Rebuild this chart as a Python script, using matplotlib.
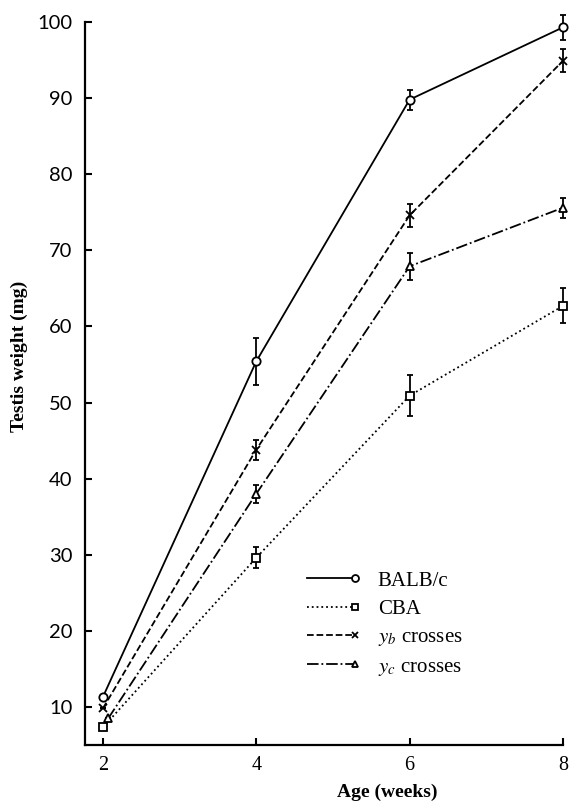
import matplotlib
matplotlib.use("Agg")
import matplotlib.pyplot as plt
from matplotlib.legend_handler import HandlerLine2D

plt.rcParams['font.family'] = 'Liberation Serif'
plt.rcParams['mathtext.fontset'] = 'stix'

# data (age in weeks, testis weight in mg)
ages = [2, 4, 6, 8]

balb_mean = [11.3, 55.4, 89.8, 99.3]
balb_err = [0, 3.1, 1.3, 1.6]

cba_mean = [7.3, 29.6, 50.9, 62.7]
cba_err = [0, 1.4, 2.7, 2.3]

yb_mean = [9.8, 43.8, 74.6, 94.9]
yb_err = [0, 1.3, 1.5, 1.5]

yc_ages = [2.07, 4, 6, 8]
yc_mean = [8.5, 38.0, 67.9, 75.6]
yc_err = [0, 1.2, 1.8, 1.3]

y_ticks = [10, 20, 30, 40, 50, 60, 70, 80, 90, 100]
x_ticks = [2, 4, 6, 8]


class EndMarker(HandlerLine2D):
    # legend handle with the marker at the right end of the line
    def create_artists(self, *args, **kwargs):
        arts = super().create_artists(*args, **kwargs)
        for a in arts:
            a.set_markevery([2])
            a.set_markersize(5)
        return arts


fig = plt.figure(figsize=(5.69, 8.10), dpi=100)
ax = fig.add_axes([85 / 569, 1 - 745 / 810, 478 / 569, 723 / 810])

series = [
    (ages, balb_mean, balb_err, '-', 'o', 'BALB/c'),
    (ages, cba_mean, cba_err, ':', 's', 'CBA'),
    (ages, yb_mean, yb_err, '--', 'x', '$y_b$ crosses'),
    (yc_ages, yc_mean, yc_err, '-.', '^', '$y_c$ crosses'),
]

handles = []
for x, y, e, ls, mk, lab in series:
    ax.errorbar(x, y, yerr=e, fmt='none', ecolor='black', elinewidth=1.3,
                capsize=2.5, capthick=1.3, clip_on=False, zorder=3)
    ln, = ax.plot(x, y, linestyle=ls, color='black', linewidth=1.3,
                  marker=mk, markersize=6, markerfacecolor='white',
                  markeredgecolor='black', markeredgewidth=1.3,
                  clip_on=False, label=lab, zorder=4)
    handles.append(ln)

ax.set_xlim(1.767, 8)
ax.set_ylim(5, 100)
ax.set_xticks(x_ticks)
ax.set_yticks(y_ticks)
ax.spines['top'].set_visible(False)
ax.spines['right'].set_visible(False)
ax.spines['left'].set_linewidth(1.6)
ax.spines['bottom'].set_linewidth(1.6)
ax.tick_params(direction='in', length=5, width=1.5)
ax.tick_params(axis='y', pad=9, labelsize=14.5)
ax.tick_params(axis='x', pad=8, labelsize=14.5)
for t in ax.get_yticklabels():
    t.set_family('Lato')

ax.set_ylabel('Testis weight (mg)', fontsize=14, fontweight='bold')
ax.set_xlabel('Age (weeks)', fontsize=14, fontweight='bold')
ax.yaxis.set_label_coords(-0.12, 0.538)
ax.xaxis.set_label_coords(0.632, -0.053)

ax.legend(handles=handles, loc='upper left',
          bbox_to_anchor=(307 / 569, 1 - 571 / 810),
          bbox_transform=fig.transFigure, frameon=False, fontsize=15,
          handlelength=2.3, handletextpad=1.1, labelspacing=0.42,
          borderpad=0, borderaxespad=0, numpoints=1,
          handler_map={plt.Line2D: EndMarker()})

fig.savefig('out.png', dpi=100)
